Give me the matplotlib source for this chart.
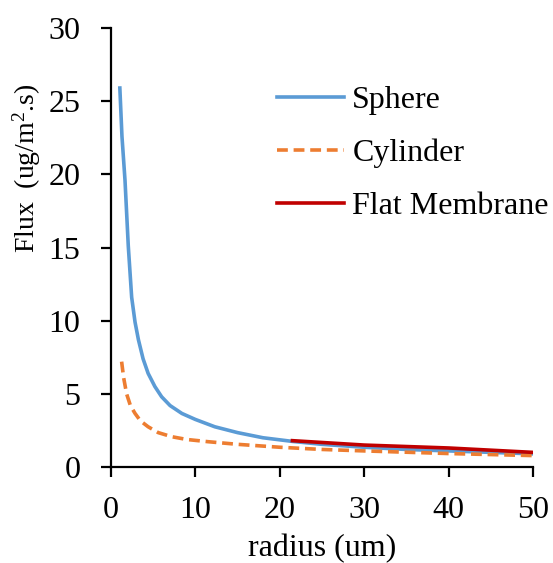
import numpy as np
import matplotlib
matplotlib.use("Agg")
import matplotlib.pyplot as plt

# values
sphere_r = [1.05, 1.3, 1.66, 2.05, 2.45, 2.85, 3.25, 3.8, 4.4, 5.2, 6.0, 7.0, 8.4, 10, 12.3, 15, 18, 21.5, 25, 30, 35, 40, 45, 50]
sphere_flux = [25.9, 22.6, 19.6, 15.1, 11.6, 9.9, 8.7, 7.4, 6.4, 5.5, 4.8, 4.2, 3.66, 3.25, 2.75, 2.35, 2.0, 1.75, 1.55, 1.35, 1.2, 1.1, 1.0, 0.9]

cyl_r = [1.26, 1.5, 1.85, 2.3, 2.84, 3.5, 4.4, 5.6, 7.2, 9.0, 11.5, 15, 20, 25, 30, 40, 50]
cyl_flux = [7.2, 6.1, 5.0, 4.2, 3.67, 3.15, 2.75, 2.35, 2.07, 1.88, 1.73, 1.55, 1.35, 1.2, 1.1, 0.92, 0.78]

flat_r = [21.5, 30, 40, 50]
flat_flux = [1.8, 1.5, 1.3, 1.0]

plt.rcParams['font.family'] = ['Liberation Serif', 'DejaVu Serif']
plt.rcParams['mathtext.fontset'] = 'custom'
plt.rcParams['mathtext.rm'] = 'Liberation Serif'
plt.rcParams['mathtext.it'] = 'Liberation Serif:italic'

fig = plt.figure(figsize=(5.53, 5.63), dpi=100)
ax = fig.add_axes([0.2007, 0.1705, 0.7631, 0.7797])

ax.plot(sphere_r, sphere_flux, color='#5B9BD5', lw=2.6, label='Sphere')
ax.plot(cyl_r, cyl_flux, color='#ED7D31', lw=2.6, ls=(0, (3, 1.6)), label='Cylinder')
ax.plot(flat_r, flat_flux, color='#C00000', lw=2.6, label='Flat Membrane')

ax.set_xlim(0, 50)
ax.set_ylim(0, 30)
ax.set_xticks(np.arange(0, 51, 10))
ax.set_yticks(np.arange(0, 31, 5))
for s in ['top', 'right']:
    ax.spines[s].set_visible(False)
for s in ['left', 'bottom']:
    ax.spines[s].set_linewidth(1.6)
ax.tick_params(direction='out', length=7, width=1.6, labelsize=23)
ax.tick_params(axis='y', pad=15)
ax.tick_params(axis='x', pad=14)

ax.set_xlabel('radius (um)', fontsize=23, labelpad=6)
ax.set_ylabel('Flux  (ug/m$\\mathrm{^2}$.s)', fontsize=20, labelpad=4, y=0.68)

ax.legend(loc='upper left', bbox_to_anchor=(0.394, 0.869), frameon=False,
          fontsize=23, handlelength=2.1, handletextpad=0.25, labelspacing=0.74,
          borderpad=0, borderaxespad=0)

plt.savefig('out.png', dpi=100)
